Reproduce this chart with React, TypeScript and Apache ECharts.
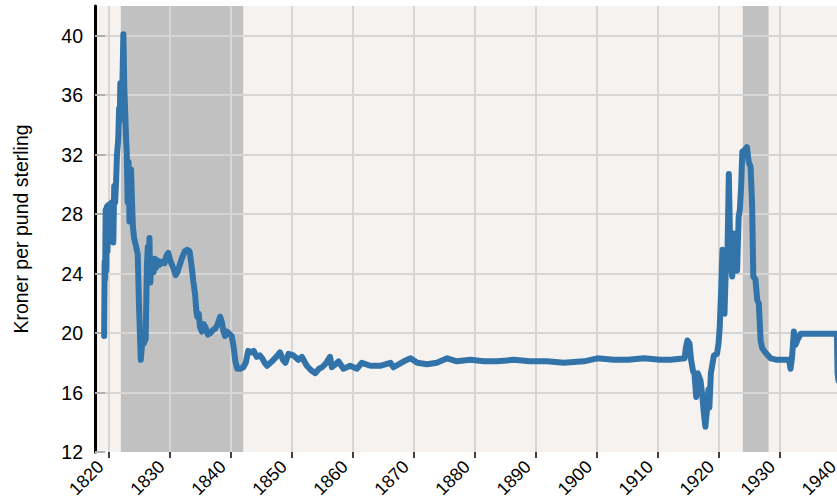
import React, { useEffect, useRef } from "react";
import * as echarts from "echarts";

const years: number[] = [
  1819.3, 1819.38, 1819.45, 1819.55, 1819.65, 1819.75, 1819.85, 1819.95, 1820.1, 1820.3,
  1820.45, 1820.6, 1820.8, 1820.95, 1821.1, 1821.25, 1821.4, 1821.6, 1821.75, 1821.85,
  1821.95, 1822.1, 1822.3, 1822.45, 1822.6, 1822.75, 1822.9, 1823.0, 1823.15, 1823.3,
  1823.45, 1823.55, 1823.7, 1823.85, 1824.0, 1824.2, 1824.5, 1824.8, 1825.0, 1825.3,
  1825.5, 1825.8, 1826.1, 1826.3, 1826.45, 1826.6, 1826.72, 1826.85, 1827.0, 1827.2,
  1827.4, 1827.6, 1827.8, 1828.0, 1828.4, 1828.8, 1829.2, 1829.5, 1829.8, 1830.2,
  1830.6, 1831.0, 1831.3, 1831.7, 1832.1, 1832.5, 1832.9, 1833.3, 1833.6, 1833.9,
  1834.2, 1834.4, 1834.55, 1834.8, 1835.0, 1835.3, 1835.6, 1835.9, 1836.3, 1836.7,
  1837.1, 1837.5, 1837.9, 1838.3, 1838.6, 1838.8, 1839.1, 1839.4, 1839.7, 1840.2,
  1840.5, 1840.8, 1841.1, 1841.6, 1842.1, 1842.5, 1842.9, 1843.4, 1843.8, 1844.3,
  1844.8, 1845.2, 1845.6, 1846.0, 1846.8, 1847.5, 1848.1, 1848.6, 1849.0, 1849.5,
  1850.3, 1851.1, 1851.7, 1852.5, 1853.2, 1853.9, 1854.5, 1855.0, 1855.7, 1856.3,
  1856.6, 1857.2, 1857.7, 1858.5, 1859.6, 1860.7, 1861.5, 1862.9, 1864.5, 1866.2,
  1866.7, 1868.4, 1869.5, 1870.6, 1872.2, 1873.8, 1875.5, 1877.1, 1879.3, 1881.5,
  1883.7, 1886.4, 1889.1, 1891.8, 1894.6, 1897.9, 1900.1, 1902.8, 1905.2, 1907.7,
  1910.4, 1912.1, 1914.4, 1914.6, 1914.85, 1915.2, 1915.45, 1915.8, 1916.0, 1916.3,
  1916.55, 1917.0, 1917.3, 1917.55, 1917.8, 1918.05, 1918.3, 1918.45, 1918.7, 1919.2,
  1919.7, 1919.95, 1920.15, 1920.4, 1920.6, 1920.8, 1920.93, 1921.15, 1921.4, 1921.64,
  1921.9, 1922.2, 1922.45, 1922.75, 1923.0, 1923.25, 1923.45, 1923.65, 1923.85, 1924.2,
  1924.6, 1924.9, 1925.2, 1925.45, 1925.65, 1926.0, 1926.3, 1926.55, 1926.85, 1927.1,
  1927.6, 1928.5, 1929.5, 1930.5, 1931.5, 1931.75, 1932.0, 1932.3, 1932.55, 1932.85,
  1933.4, 1936.0, 1939.35, 1939.45, 1939.6,
];

const rates: number[] = [
  19.8, 24.8, 23.6, 28.3, 24.2, 28.5, 25.5, 28.6, 26.3, 28.7,
  26.2, 28.8, 26.1, 29.9, 28.8, 30.1, 32.0, 33.0, 35.1, 34.3,
  36.8, 34.9, 37.0, 40.1, 36.5, 34.8, 33.0, 32.2, 28.8, 31.5,
  27.5, 28.3, 31.0, 29.0, 27.2, 26.4, 25.9, 25.3, 22.0, 18.2,
  19.2, 19.3, 19.6, 24.5, 25.8, 23.9, 26.4, 23.4, 24.4, 25.0,
  24.1, 25.0, 24.4, 24.9, 24.6, 24.8, 24.7, 25.2, 25.4, 24.8,
  24.4, 23.9, 24.1, 24.6, 25.1, 25.5, 25.6, 25.5, 24.6, 23.5,
  22.6, 21.5, 21.1, 21.3, 20.4, 20.1, 20.6, 20.4, 19.9, 20.0,
  20.2, 20.3, 20.6, 21.1, 20.7, 20.2, 19.8, 20.1, 20.0, 19.8,
  19.1, 18.1, 17.6, 17.6, 17.7, 18.0, 18.8, 18.7, 18.8, 18.4,
  18.5, 18.3, 18.0, 17.8, 18.1, 18.4, 18.7, 18.2, 18.0, 18.6,
  18.5, 18.2, 18.4, 17.8, 17.5, 17.3, 17.6, 17.7, 18.0, 18.4,
  17.7, 17.9, 18.1, 17.6, 17.8, 17.6, 18.0, 17.8, 17.8, 18.0,
  17.7, 18.1, 18.3, 18.0, 17.9, 18.0, 18.3, 18.1, 18.2, 18.1,
  18.1, 18.2, 18.1, 18.1, 18.0, 18.1, 18.3, 18.2, 18.2, 18.3,
  18.2, 18.2, 18.3, 19.0, 19.5, 19.3, 18.2, 17.4, 17.3, 15.7,
  17.3, 16.8, 15.8, 14.6, 13.7, 14.8, 16.2, 15.0, 17.3, 18.5,
  18.6, 19.3, 20.4, 23.1, 25.6, 25.5, 21.3, 24.4, 24.9, 30.7,
  24.9, 23.8, 26.7, 24.9, 24.2, 27.8, 28.3, 29.8, 32.2, 32.3,
  32.5, 31.5, 31.2, 28.7, 23.8, 23.6, 22.2, 22.0, 19.5, 19.0,
  18.7, 18.3, 18.2, 18.2, 18.2, 17.6, 18.4, 20.1, 19.2, 19.5,
  19.95, 19.95, 19.95, 17.3, 16.8,
];

const xTicks: number[] = [1820, 1830, 1840, 1850, 1860, 1870, 1880, 1890, 1900, 1910, 1920, 1930, 1940];
const yTicks: number[] = [12, 16, 20, 24, 28, 32, 36, 40];
const shadedPeriods: [number, number][] = [
  [1822.03, 1842.08],
  [1923.93, 1928.15],
];
const yAxisTitle = "Kroner per pund sterling";

const X_MIN = 1817.8;
const X_MAX = 1941;
const Y_MIN = 12;
const Y_MAX = 42;
const FONT = "'Liberation Sans', Arial, sans-serif";
const PX_PER_YEAR = 6.1;
const LEFT = 95;
const CHART_W = Math.round(LEFT + (X_MAX - X_MIN) * PX_PER_YEAR);

export default function App() {
  const ref = useRef<HTMLDivElement>(null);
  useEffect(() => {
    if (!ref.current) return;
    const chart = echarts.init(ref.current, null, { renderer: "svg" });
    const seriesData = years.map((y, i) => [y, rates[i]]);
    const areas: any[] = [
      [
        { xAxis: X_MIN, yAxis: Y_MIN, itemStyle: { color: "#f5f2ef" } },
        { xAxis: X_MAX, yAxis: Y_MAX },
      ],
      ...shadedPeriods.map(([a, b]) => [
        { xAxis: a, yAxis: Y_MIN, itemStyle: { color: "#c1c1c1" } },
        { xAxis: b, yAxis: Y_MAX },
      ]),
    ];
    chart.setOption({
      animation: false,
      backgroundColor: "#ffffff",
      grid: { left: LEFT, right: 0, top: 6, bottom: 49, containLabel: false, outerBoundsMode: "none" },
      xAxis: {
        type: "value",
        min: X_MIN,
        max: X_MAX,
        axisLine: { show: false },
        axisTick: { show: true, customValues: xTicks, length: 6, lineStyle: { color: "#000", width: 1.5 } },
        axisLabel: {
          customValues: xTicks,
          rotate: 45,
          fontSize: 18,
          color: "#000",
          fontFamily: FONT,
          margin: 4,
          padding: [0, 11, 0, 0],
          formatter: (v: number) => String(v),
        },
        splitLine: { show: true, lineStyle: { color: "#d6d6d6", width: 2 } },
      },
      yAxis: {
        type: "value",
        min: Y_MIN,
        max: Y_MAX,
        name: yAxisTitle,
        nameLocation: "middle",
        nameGap: 64,
        nameTextStyle: { fontSize: 19.5, color: "#000", fontFamily: FONT },
        axisLine: { show: true, lineStyle: { color: "#000", width: 3 } },
        axisTick: { show: true, inside: true, customValues: yTicks, length: 10, lineStyle: { color: "#b0b0b0", width: 2 } },
        axisLabel: { customValues: yTicks, fontSize: 19.5, color: "#000", fontFamily: FONT, margin: 12 },
        splitLine: { show: true, showMinLine: false, lineStyle: { color: "#d6d6d6", width: 2 } },
      },
      series: [
        {
          type: "line",
          z: -1,
          silent: true,
          data: seriesData,
          showSymbol: false,
          lineStyle: { opacity: 0, width: 0 },
          markArea: { silent: true, z: -1, data: areas },
        },
        {
          type: "line",
          z: 3,
          data: seriesData,
          showSymbol: false,
          symbol: "none",
          clip: true,
          lineStyle: { color: "#3274a9", width: 6, cap: "round", join: "round" },
        },
      ],
    });
    return () => chart.dispose();
  }, []);
  return (
    <div style={{ position: "fixed", left: 0, top: 0, width: 837, height: 501, overflow: "hidden" }}>
      <div ref={ref} style={{ width: CHART_W, height: 501 }} />
    </div>
  );
}
